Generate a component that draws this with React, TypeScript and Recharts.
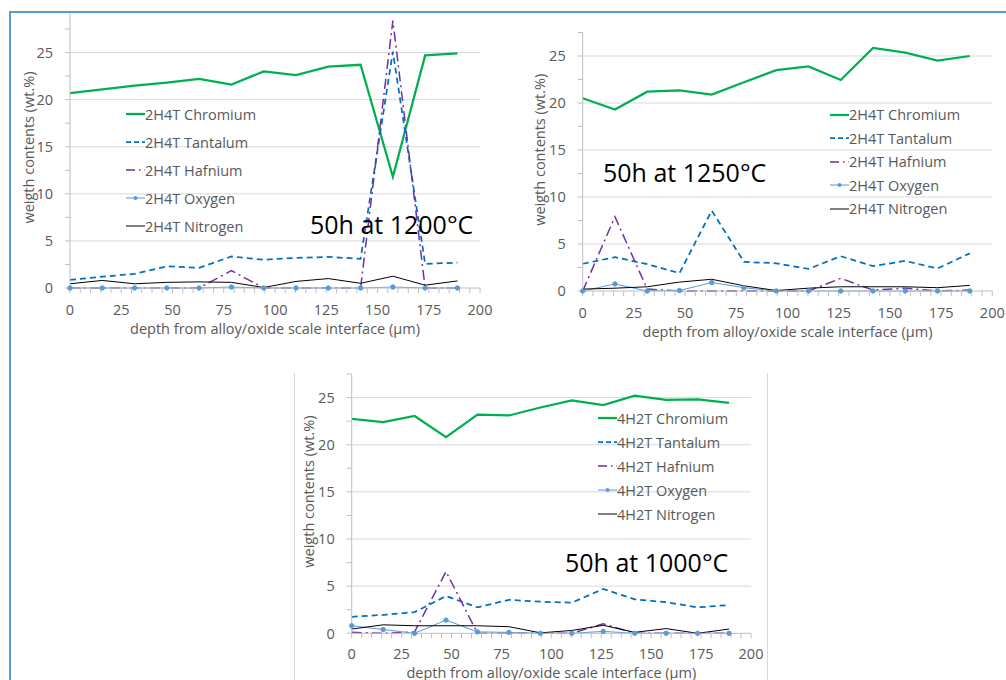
import React from "react"
import { Legend, Line, LineChart, ReferenceLine, XAxis, YAxis } from "recharts"

// depth of each measurement point (µm from the alloy/oxide scale interface)
const depthUm = [0, 15.75, 31.5, 47.25, 63, 78.75, 94.5, 110.25, 126, 141.75, 157.5, 173.25, 189]

const xLabelTicks = [0, 25, 50, 75, 100, 125, 150, 175, 200]
const xMinorTicks = [
  0, 5, 10, 15, 20, 25, 30, 35, 40, 45, 50, 55, 60, 65, 70, 75, 80, 85, 90, 95, 100,
  105, 110, 115, 120, 125, 130, 135, 140, 145, 150, 155, 160, 165, 170, 175, 180, 185, 190, 195, 200,
]
const yLabelTicks = [0, 5, 10, 15, 20, 25]
const yMinorTicks = [0, 2.5, 5, 7.5, 10, 12.5, 15, 17.5, 20, 22.5, 25, 27.5]

// 2H4T, 50h at 1200°C
const cr1200 = [20.7, 21.1, 21.5, 21.8, 22.2, 21.6, 23.0, 22.6, 23.5, 23.7, 11.8, 24.7, 24.9]
const ta1200 = [0.85, 1.2, 1.5, 2.3, 2.15, 3.35, 3.0, 3.2, 3.3, 3.1, 25.1, 2.55, 2.7]
const hf1200 = [0, 0, 0, 0, 0, 1.85, 0, 0, 0, 0, 28.4, 0, 0]
const o1200 = [0, 0, 0, 0, 0, 0.1, 0, 0, 0, 0, 0.1, 0, 0]
const n1200 = [0.45, 0.8, 0.45, 0.6, 0.65, 0.6, 0.05, 0.7, 1.0, 0.5, 1.25, 0.3, 0.75]

// 2H4T, 50h at 1250°C
const cr1250 = [20.5, 19.3, 21.2, 21.35, 20.9, 22.2, 23.5, 23.9, 22.45, 25.85, 25.35, 24.5, 25.0]
const ta1250 = [2.9, 3.6, 2.85, 1.9, 8.55, 3.1, 2.95, 2.35, 3.7, 2.65, 3.2, 2.4, 4.0]
const hf1250 = [0, 7.9, 0.2, 0, 0, 0, 0, 0, 1.35, 0.1, 0.3, 0, 0.1]
const o1250 = [0, 0.75, 0, 0.05, 0.9, 0.35, 0, 0, 0, 0, 0, 0, 0]
const n1250 = [0.2, 0.3, 0.45, 0.95, 1.25, 0.55, 0.05, 0.3, 0.45, 0.45, 0.45, 0.35, 0.6]

// 4H2T, 50h at 1000°C
const cr1000 = [22.75, 22.4, 23.05, 20.8, 23.2, 23.1, 23.95, 24.7, 24.2, 25.2, 24.75, 24.8, 24.45]
const ta1000 = [1.75, 1.95, 2.25, 3.95, 2.75, 3.55, 3.35, 3.25, 4.7, 3.6, 3.3, 2.75, 3.0]
const hf1000 = [0.1, 0, 0.15, 6.55, 0, 0, 0, 0, 1.0, 0, 0, 0, 0]
const o1000 = [0.8, 0.4, 0, 1.4, 0.15, 0.1, 0, 0, 0.2, 0, 0, 0, 0]
const n1000 = [0.45, 0.9, 0.8, 0.8, 0.8, 0.7, 0.05, 0.3, 0.85, 0.1, 0.5, 0, 0.45]

const FONT = '"Open Sans", "Noto Sans", sans-serif'
const GREY = "#595959"
const AXIS = "#bfbfbf"
const GRID = "#d9d9d9"

const seriesStyles = [
  { key: "cr", element: "Chromium", color: "#00b050", width: 2.25, dash: undefined, legendDash: undefined, dot: false },
  { key: "ta", element: "Tantalum", color: "#0070c0", width: 1.75, dash: "6 4", legendDash: "5 3", dot: false },
  { key: "hf", element: "Hafnium", color: "#7030a0", width: 1.5, dash: "10 4 2 4", legendDash: "9 4 1.5 4", dot: false },
  { key: "o", element: "Oxygen", color: "#5b9bd5", width: 1, dash: undefined, legendDash: undefined, dot: true },
  { key: "n", element: "Nitrogen", color: "#000000", width: 1, dash: undefined, legendDash: undefined, dot: false },
]

function buildRows(cr: number[], ta: number[], hf: number[], o: number[], n: number[]) {
  return depthUm.map((d, i) => ({ depth: d, cr: cr[i], ta: ta[i], hf: hf[i], o: o[i], n: n[i] }))
}

function XTick(props: any) {
  const { x, y, payload } = props
  if (!xLabelTicks.includes(payload.value)) return <g />
  return (
    <text x={x} y={y} dy="0.71em" textAnchor="middle" fill={GREY} fontSize={14.5} fontFamily={FONT}>
      {payload.value}
    </text>
  )
}

function YTick(props: any) {
  const { x, y, payload } = props
  if (!yLabelTicks.includes(payload.value)) return <g />
  return (
    <text x={x} y={y} dy="0.36em" textAnchor="end" fill={GREY} fontSize={14.5} fontFamily={FONT}>
      {payload.value}
    </text>
  )
}

function XTitle(props: any) {
  const vb = props.viewBox ?? { x: 0, y: 0, width: 0, height: 0 }
  return (
    <text
      x={vb.x + vb.width / 2}
      y={vb.y + vb.height - 6}
      textAnchor="middle"
      fill={GREY}
      fontSize={14.5}
      fontFamily={FONT}
    >
      depth from alloy/oxide scale interface (µm)
    </text>
  )
}

function YTitle(props: any) {
  const vb = props.viewBox ?? { x: 0, y: 0, width: 0, height: 0 }
  const cx = vb.x + props.at
  const cy = vb.y + vb.height / 2 - props.lift
  return (
    <text
      x={cx}
      y={cy}
      transform={`rotate(-90, ${cx}, ${cy})`}
      textAnchor="middle"
      dominantBaseline="central"
      fill={GREY}
      fontSize={14.5}
      fontFamily={FONT}
    >
      weigth contents (wt.%)
    </text>
  )
}

function LegendRows({ payload, rowH }: any) {
  const order = (k: string) => seriesStyles.findIndex((st) => st.key === k)
  const items = [...(payload ?? [])].sort((a: any, b: any) => order(a.dataKey) - order(b.dataKey))
  return (
    <div style={{ fontFamily: FONT, fontSize: 14.5, color: GREY }}>
      {items.map((e: any) => {
        const s = seriesStyles[order(e.dataKey)] ?? seriesStyles[0]
        return (
          <div key={s.key} style={{ height: rowH, display: "flex", alignItems: "center", whiteSpace: "nowrap" }}>
            <svg width={19} height={8} style={{ flex: "none" }}>
              <line x1={0} y1={4} x2={19} y2={4} stroke={s.color} strokeWidth={s.width} strokeDasharray={s.legendDash} />
              {s.dot && <circle cx={9.5} cy={4} r={2} fill={s.color} />}
            </svg>
            <span>{e.value}</span>
          </div>
        )
      })}
    </div>
  )
}

type PanelProps = {
  data: any[]
  alloy: string
  title: string
  left: number
  top: number
  width: number
  height: number
  yAxisW: number
  mTop: number
  mRight: number
  xAxisH: number
  xTickGap: number
  yMax: number
  yTitleAt: number
  yTitleLift: number
  legendX: number
  legendY: number
  rowH: number
  titleX: number
  titleY: number
}

function Panel(p: PanelProps) {
  return (
    <div style={{ position: "absolute", left: p.left, top: p.top, width: p.width, height: p.height }}>
      <LineChart
        width={p.width}
        height={p.height}
        data={p.data}
        margin={{ top: p.mTop, right: p.mRight, bottom: 0, left: 0 }}
      >
        {yLabelTicks.slice(1).map((v) => (
          <ReferenceLine key={v} y={v} stroke={GRID} strokeWidth={1} />
        ))}
        <XAxis
          type="number"
          dataKey="depth"
          domain={[0, 200]}
          ticks={xMinorTicks}
          interval={0}
          height={p.xAxisH}
          tickSize={5}
          tickMargin={p.xTickGap}
          axisLine={{ stroke: AXIS }}
          tickLine={{ stroke: AXIS }}
          tick={<XTick />}
          label={<XTitle />}
        />
        <YAxis
          type="number"
          domain={[0, p.yMax]}
          ticks={yMinorTicks}
          interval={0}
          width={p.yAxisW}
          tickSize={5}
          tickMargin={12}
          axisLine={{ stroke: AXIS }}
          tickLine={{ stroke: AXIS }}
          tick={<YTick />}
          label={<YTitle at={p.yTitleAt} lift={p.yTitleLift} />}
        />
        <Legend
          layout="vertical"
          align="center"
          verticalAlign="middle"
          wrapperStyle={{ left: p.legendX, top: p.legendY, width: "auto", height: "auto" }}
          content={(lp: any) => <LegendRows payload={lp.payload} rowH={p.rowH} />}
        />
        {seriesStyles.map((s) => (
          <Line
            key={s.key}
            type="linear"
            dataKey={s.key}
            name={`${p.alloy} ${s.element}`}
            stroke={s.color}
            strokeWidth={s.width}
            strokeDasharray={s.dash}
            dot={s.dot ? { r: 2.2, fill: s.color, stroke: s.color, strokeWidth: 1 } : false}
            activeDot={false}
            isAnimationActive={false}
          />
        ))}
      </LineChart>
      <div
        style={{
          position: "absolute",
          left: p.titleX,
          top: p.titleY,
          fontFamily: FONT,
          fontSize: 25,
          lineHeight: "25px",
          color: "#000",
          whiteSpace: "nowrap",
        }}
      >
        {p.title}
      </div>
    </div>
  )
}

export default function App() {
  return (
    <div
      style={{
        position: "absolute",
        left: 0,
        top: 0,
        width: 1006,
        height: 680,
        overflow: "hidden",
        background: "#ffffff",
      }}
    >
      <div style={{ position: "absolute", left: 9, top: 11, width: 1100, height: 800, border: "2px solid #5b9bd5" }} />
      <div
        style={{
          position: "absolute",
          left: 294,
          top: 373,
          width: 472,
          height: 400,
          borderLeft: `1px solid ${GRID}`,
          borderRight: `1px solid ${GRID}`,
        }}
      />
      <Panel
        data={buildRows(cr1200, ta1200, hf1200, o1200, n1200)}
        alloy="2H4T"
        title="50h at 1200°C"
        left={0}
        top={0}
        width={500}
        height={340}
        yAxisW={70}
        mTop={13}
        mRight={20}
        xAxisH={52}
        xTickGap={12}
        yMax={29.2}
        yTitleAt={28}
        yTitleLift={3}
        legendX={126}
        legendY={100}
        rowH={28}
        titleX={310}
        titleY={212}
      />
      <Panel
        data={buildRows(cr1250, ta1250, hf1250, o1250, n1250)}
        alloy="2H4T"
        title="50h at 1250°C"
        left={500}
        top={0}
        width={506}
        height={343}
        yAxisW={82.7}
        mTop={32.5}
        mRight={13.7}
        xAxisH={52}
        xTickGap={12}
        yMax={27.5}
        yTitleAt={39}
        yTitleLift={12}
        legendX={330}
        legendY={103}
        rowH={23.5}
        titleX={103}
        titleY={160}
      />
      <Panel
        data={buildRows(cr1000, ta1000, hf1000, o1000, n1000)}
        alloy="4H2T"
        title="50h at 1000°C"
        left={290}
        top={360}
        width={480}
        height={324}
        yAxisW={61.7}
        mTop={14}
        mRight={19}
        xAxisH={50.7}
        xTickGap={10}
        yMax={27.5}
        yTitleAt={19}
        yTitleLift={12}
        legendX={308}
        legendY={46}
        rowH={24}
        titleX={275}
        titleY={190}
      />
    </div>
  )
}
